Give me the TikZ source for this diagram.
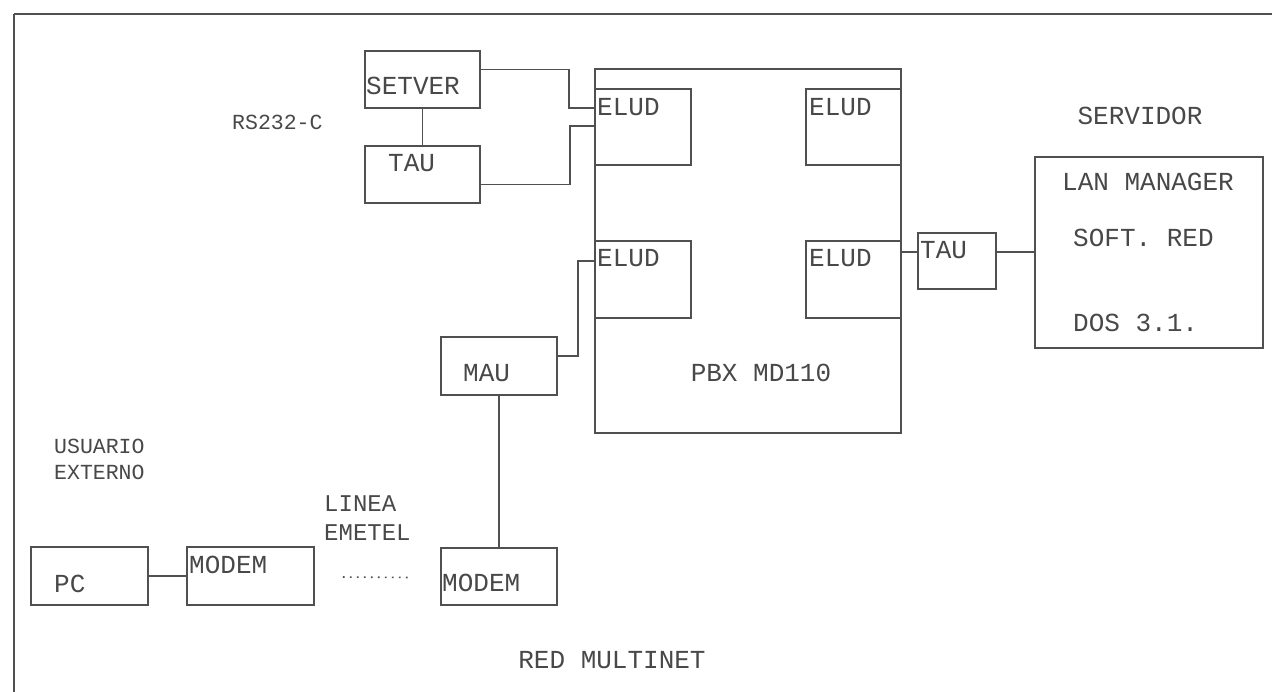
\documentclass[tikz,border=0pt]{standalone}
\usepackage{fontspec}
\newfontfamily\monof{Liberation Mono}
\usetikzlibrary{calc}
\definecolor{linec}{HTML}{505050}
\definecolor{textc}{HTML}{484848}
\tikzset{
  box/.style={draw=linec, line width=1.9pt, inner sep=0pt, minimum width=#1},
  box/.default=100pt,
  conn/.style={draw=linec, line width=1.9pt},
  lbl/.style={text=textc, inner sep=0pt, anchor=west, font=\monof\fontsize{26}{26}\selectfont},
  clbl/.style={text=textc, inner sep=0pt, anchor=center, font=\monof\fontsize{26}{26}\selectfont},
  slbl/.style={text=textc, inner sep=0pt, anchor=west, font=\monof\fontsize{21.5}{21.5}\selectfont},
  mlbl/.style={text=textc, inner sep=0pt, anchor=west, font=\monof\fontsize{24}{24}\selectfont}
}
\begin{document}
\begin{tikzpicture}[x=1pt,y=-1pt]
\useasboundingbox (0,0) rectangle (1272,692);
\fill[white] (0,0) rectangle (1272,692);
% frame
\draw[linec, line width=2.8pt] (1272,14) -- (14,14);
\draw[linec, line width=2pt] (14,14) -- (14,692);

% boxes
\node[box=115pt, minimum height=57pt] (setver) at (422.5,79.5) {};
\node[box=115pt, minimum height=57pt] (tauL) at (422.5,174.5) {};
\node[box=306pt, minimum height=364pt] (pbx) at (748,251) {};
\node[box=96pt, minimum height=76pt] (elud1) at (643,127) {};
\node[box=95pt, minimum height=76pt] (elud2) at (853.5,127) {};
\node[box=96pt, minimum height=77pt] (elud3) at (643,279.5) {};
\node[box=95pt, minimum height=77pt] (elud4) at (853.5,279.5) {};
\node[box=78pt, minimum height=56pt] (tauR) at (957,261) {};
\node[box=228pt, minimum height=191pt] (server) at (1149,252.5) {};
\node[box=116pt, minimum height=58pt] (mau) at (499,366) {};
\node[box=116pt, minimum height=57pt] (modemR) at (499,576.5) {};
\node[box=127pt, minimum height=58pt] (modemL) at (250.5,576) {};
\node[box=117pt, minimum height=58pt] (pc) at (89.5,576) {};

% labels
\node[lbl] (tsetver) at (366,86) {SETVER};
\node[lbl] (ttauL) at (388,163) {TAU};
\node[slbl] (trs) at (232,122) {RS232-C};
\node[lbl] (te1) at (597,107) {ELUD};
\node[lbl] (te2) at (809,107) {ELUD};
\node[lbl] (te3) at (597,258) {ELUD};
\node[lbl] (te4) at (809,258) {ELUD};
\node[lbl] (ttauR) at (920,250) {TAU};
\node[clbl] (tserv) at (1140,116) {SERVIDOR};
\node[clbl] (tlan) at (1148,182) {LAN MANAGER};
\node[lbl] (tsoft) at (1073,238) {SOFT. RED};
\node[lbl] (tdos) at (1073,323) {DOS 3.1.};
\node[clbl] (tpbx) at (761,373) {PBX MD110};
\node[lbl] (tmau) at (463,373) {MAU};
\node[lbl] (tmodR) at (442,583) {MODEM};
\node[lbl] (tmodL) at (189,565) {MODEM};
\node[lbl] (tpc) at (54,584) {PC};
\node[mlbl] (tlinea) at (324,504) {LINEA};
\node[mlbl] (temetel) at (324,533) {EMETEL};
\node[slbl] (tusu) at (54,446) {USUARIO};
\node[slbl] (text) at (54,472) {EXTERNO};
\node[clbl] (tred) at (612,660) {RED MULTINET};

% connectors
\draw[conn] ($(setver.east)+(0,-10)$) -- ++(88,0) |- ($(elud1.west)+(0,-19)$);
\draw[conn] ($(tauL.east)+(0,10)$) -- ++(89,0) |- ($(elud1.west)+(0,-1)$);
\draw[conn] (setver.south) -- (tauL.north);
\draw[conn] ($(mau.east)+(0,-10)$) -- ++(20,0) |- ($(elud3.west)+(0,-18.5)$);
\draw[conn] (mau.south) -- (modemR.north);
\draw[conn, line width=2.8pt] (pc.east) -- (modemL.west);
\draw[linec, line width=1.6pt, dash pattern=on 1.6pt off 5.4pt] ($(modemL.east)+(28,1)$) -- ($(modemR.west)+(-28,1)$);
\draw[conn] ($(tauR.west)+(0,-9)$) coordinate (tw) -- (tw -| elud4.east);
\draw[conn] ($(tauR.east)+(0,-9)$) coordinate (te) -- (te -| server.west);
\end{tikzpicture}
\end{document}
